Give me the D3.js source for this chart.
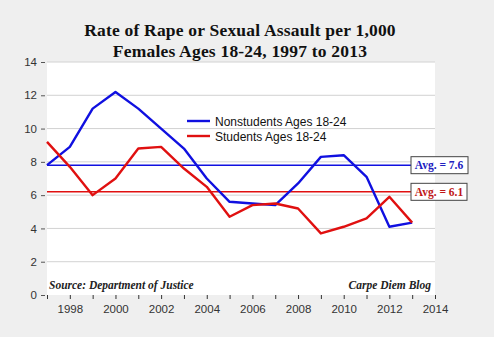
<!DOCTYPE html>
<html>
<head>
<meta charset="utf-8">
<script src="https://cdn.jsdelivr.net/npm/d3@7"></script>
<style>
  body { margin: 0; background: #efefef; }
  svg { display: block; }
</style>
</head>
<body>
<div id="chart-area"></div>
<script>
const years = d3.range(1997, 2014)
const nonstudents = [7.8, 8.9, 11.2, 12.2, 11.2, 10.0, 8.8, 7.0, 5.6, 5.5, 5.4, 6.7, 8.3, 8.4, 7.1, 4.1, 4.35]
const students = [9.2, 7.7, 6.0, 7.0, 8.8, 8.9, 7.6, 6.5, 4.7, 5.4, 5.5, 5.2, 3.7, 4.1, 4.6, 5.9, 4.35]
const avgLines = [7.8, 6.2]
const avgLabels = ['Avg. = 7.6', 'Avg. = 6.1']
const seriesNames = ['Nonstudents Ages 18-24', 'Students Ages 18-24']
const colors = ['#1010e0', '#e01010']
const yTicks = [0, 2, 4, 6, 8, 10, 12, 14]
const xTicks = d3.range(1997, 2015)
const xLabels = [1998, 2000, 2002, 2004, 2006, 2008, 2010, 2012, 2014]

const W = 494, H = 337
const MARGIN = { LEFT: 47, RIGHT: 59, TOP: 62, BOTTOM: 42 }
const WIDTH = W - MARGIN.LEFT - MARGIN.RIGHT
const HEIGHT = H - MARGIN.TOP - MARGIN.BOTTOM

const svg = d3.select('#chart-area').append('svg')
  .attr('width', W)
  .attr('height', H)

svg.append('rect').attr('width', W).attr('height', H).attr('fill', '#efefef')

// title
const title = svg.append('text')
  .attr('x', 240)
  .attr('font-family', 'Liberation Serif, serif')
  .attr('font-weight', '700')
  .attr('font-size', '17.5px')
  .attr('letter-spacing', '0.2px')
  .attr('fill', '#111')
  .attr('text-anchor', 'middle')
title.append('tspan').attr('x', 240).attr('y', 36).text('Rate of Rape or Sexual Assault per 1,000')
title.append('tspan').attr('x', 240).attr('y', 57).text('Females Ages 18-24, 1997 to 2013')

const g = svg.append('g')
  .attr('transform', `translate(${MARGIN.LEFT}, ${MARGIN.TOP})`)

const x = d3.scaleLinear().domain([1997, 2014]).range([0, WIDTH])
const y = d3.scaleLinear().domain([0, 14]).range([HEIGHT, 0])

g.append('rect').attr('width', WIDTH).attr('height', HEIGHT).attr('fill', '#fff')

// grid
g.selectAll('.grid').data(yTicks.slice(1)).enter().append('line')
  .attr('x1', 0).attr('x2', WIDTH)
  .attr('y1', d => y(d)).attr('y2', d => y(d))
  .attr('stroke', '#d2d2d2').attr('stroke-width', 1)

// y axis
const yAxisCall = d3.axisLeft(y).tickValues(yTicks).tickSize(4).tickPadding(4)
const yAxis = g.append('g').call(yAxisCall)
yAxis.select('.domain').remove()
yAxis.selectAll('line').attr('stroke', '#555').attr('transform', 'translate(-2,0)')
yAxis.selectAll('text').attr('font-family', 'Arial, Liberation Sans, sans-serif').attr('font-size', '11.5px').attr('fill', '#333')
  .attr('dx', '-2')

// x axis
const xAxisCall = d3.axisBottom(x).tickValues(xTicks).tickSize(4).tickFormat(d => xLabels.includes(d) ? d : '')
const xAxis = g.append('g').attr('transform', `translate(0, ${HEIGHT})`).call(xAxisCall)
xAxis.select('.domain').remove()
xAxis.selectAll('line').attr('stroke', '#333')
xAxis.selectAll('text').attr('font-family', 'Arial, Liberation Sans, sans-serif').attr('font-size', '11.5px').attr('fill', '#333')
  .attr('dy', '0.95em')

// average lines
avgLines.forEach((v, i) => {
  g.append('line')
    .attr('x1', 0).attr('x2', WIDTH + 8)
    .attr('y1', y(v)).attr('y2', y(v))
    .attr('stroke', colors[i]).attr('stroke-width', 1.6)
})

// series lines
const line = d3.line().x((d, i) => x(years[i])).y(d => y(d))
;[nonstudents, students].forEach((s, i) => {
  g.append('path')
    .datum(s)
    .attr('d', line)
    .attr('fill', 'none')
    .attr('stroke', colors[i])
    .attr('stroke-width', 2.4)
    .attr('stroke-linejoin', 'round')
})

// avg labels
avgLabels.forEach((t, i) => {
  const cy = y(avgLines[i])
  g.append('rect')
    .attr('x', 364).attr('y', cy - 8.5)
    .attr('width', 57 - i).attr('height', 17)
    .attr('fill', '#fff').attr('stroke', '#444').attr('stroke-width', 1)
  g.append('text')
    .attr('x', 392).attr('y', cy + 4)
    .attr('text-anchor', 'middle')
    .attr('font-family', 'Liberation Serif, serif')
    .attr('font-weight', '700')
    .attr('font-size', '11.5px')
    .attr('fill', i === 0 ? '#2020c0' : '#c01818')
    .text(t)
})

// legend
seriesNames.forEach((n, i) => {
  const ly = 59 + i * 15
  g.append('line')
    .attr('x1', 140).attr('x2', 163)
    .attr('y1', ly).attr('y2', ly)
    .attr('stroke', colors[i]).attr('stroke-width', 2.4)
  g.append('text')
    .attr('x', 168).attr('y', ly + 4.5)
    .attr('font-family', 'Arial, Liberation Sans, sans-serif')
    .attr('font-size', '12px')
    .attr('fill', '#111')
    .text(n)
})

// notes
g.append('text')
  .attr('x', 2).attr('y', HEIGHT - 6)
  .attr('font-family', 'Liberation Serif, serif')
  .attr('font-weight', '700').attr('font-style', 'italic')
  .attr('font-size', '11.5px').attr('fill', '#222')
  .text('Source: Department of Justice')
g.append('text')
  .attr('x', WIDTH - 4).attr('y', HEIGHT - 6)
  .attr('text-anchor', 'end')
  .attr('font-family', 'Liberation Serif, serif')
  .attr('font-weight', '700').attr('font-style', 'italic')
  .attr('font-size', '11.5px').attr('fill', '#222')
  .text('Carpe Diem Blog')
</script>
</body>
</html>
